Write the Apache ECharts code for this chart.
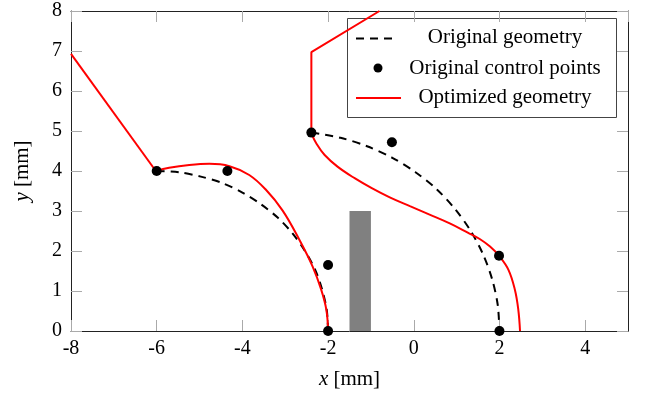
<!DOCTYPE html>
<html>
<head>
<meta charset="utf-8">
<script src="https://cdn.jsdelivr.net/npm/echarts@6/dist/echarts.min.js"></script>
<style>
  html, body { margin: 0; padding: 0; background: #fff; }
  #chart { width: 652px; height: 403px; }
</style>
</head>
<body>
<div id="chart"></div>
<script>
// original geometry (dashed), two arcs
const originalLeft = [[-6.00, 4.00], [-5.48, 3.97], [-4.97, 3.86], [-4.47, 3.70], [-4.00, 3.46], [-3.57, 3.17], [-3.17, 2.83], [-2.83, 2.44], [-2.54, 2.00], [-2.30, 1.53], [-2.14, 1.04], [-2.03, 0.52], [-2.00, 0.00]];
const originalRight = [[-2.39, 4.96], [-1.71, 4.83], [-1.09, 4.62], [-0.50, 4.33], [0.04, 3.97], [0.54, 3.54], [0.97, 3.04], [1.33, 2.50], [1.62, 1.91], [1.83, 1.29], [1.96, 0.65], [2.00, 0.00]];

// original control points
const controlPoints = [[-6, 4], [-4.35, 4], [-2, 1.65], [-2, 0], [-2.39, 4.96], [-0.51, 4.72], [1.99, 1.88], [2, 0]];

// optimized geometry (red): straight parts and curved parts
const optimizedLeftStraight = [[-8, 6.93], [-6.02, 4.0]];
const optimizedLeftCurve = [[-6.02, 4.0], [-5.71, 4.08], [-5.24, 4.15], [-4.77, 4.18], [-4.30, 4.12], [-3.84, 3.90], [-3.45, 3.53], [-3.06, 3.01], [-2.67, 2.28], [-2.36, 1.61], [-2.16, 1.03], [-2.04, 0.53], [-2.0, 0]];
const optimizedRightStraight = [[-0.80, 8.0], [-2.39, 6.97], [-2.39, 4.94]];
const optimizedRightCurve = [[-2.39, 4.94], [-2.27, 4.68], [-2.08, 4.40], [-1.78, 4.11], [-1.38, 3.82], [-0.98, 3.57], [-0.56, 3.34], [-0.09, 3.12], [0.37, 2.91], [0.84, 2.69], [1.26, 2.46], [1.54, 2.30], [1.78, 2.11], [1.99, 1.88], [2.21, 1.53], [2.36, 1.03], [2.44, 0.53], [2.48, 0]];

// gray obstacle
const obstacleX = [-1.5, -1.0];
const obstacleY = [0, 3];

const legendNames = ['Original geometry', 'Original control points', 'Optimized geometry'];

const serif = '"Liberation Serif", "DejaVu Serif", serif';
const chart = echarts.init(document.getElementById('chart'));

const tickStyle = {show: true, inside: true, length: 11, lineStyle: {color: '#aaa', width: 1}};
const lineAxis = {onZero: false, lineStyle: {color: '#222', width: 1}};

const dashed = {color: '#000', width: 2, type: [8, 6]};
const red = {color: '#ff0000', width: 2};

function lineSeries(data, style, smooth) {
    return {
        type: 'line', data: data, showSymbol: false, symbol: 'none',
        smooth: smooth, lineStyle: style, z: 3
    };
}

const option = {
    animation: false,
    grid: {left: 71, right: 24, top: 11, bottom: 72},
    xAxis: [
        {
            type: 'value', min: -8, max: 5, interval: 2, position: 'bottom',
            axisLine: lineAxis, axisTick: tickStyle, splitLine: {show: false},
            axisLabel: {fontFamily: serif, fontSize: 20, color: '#000', margin: 8, showMaxLabel: false},
            name: '{i|x} [mm]', nameLocation: 'middle', nameGap: 38,
            nameTextStyle: {fontFamily: serif, fontSize: 21, color: '#000',
                rich: {i: {fontFamily: serif, fontStyle: 'italic', fontSize: 21, color: '#000'}}}
        },
        {
            type: 'value', min: -8, max: 5, interval: 2, position: 'top',
            axisLine: lineAxis, axisTick: tickStyle, splitLine: {show: false},
            axisLabel: {show: false}
        }
    ],
    yAxis: [
        {
            type: 'value', min: 0, max: 8, interval: 1, position: 'left',
            axisLine: lineAxis, axisTick: tickStyle, splitLine: {show: false},
            axisLabel: {fontFamily: serif, fontSize: 20, color: '#000', margin: 9},
            name: '{i|y} [mm]', nameLocation: 'middle', nameGap: 38,
            nameTextStyle: {fontFamily: serif, fontSize: 21, color: '#000',
                rich: {i: {fontFamily: serif, fontStyle: 'italic', fontSize: 21, color: '#000'}}}
        },
        {
            type: 'value', min: 0, max: 8, interval: 1, position: 'right',
            axisLine: lineAxis, axisTick: tickStyle, splitLine: {show: false},
            axisLabel: {show: false}
        }
    ],
    series: [
        {
            type: 'custom', z: 2,
            data: [[obstacleX[0], obstacleY[0], obstacleX[1], obstacleY[1]]],
            renderItem: function (params, api) {
                const p0 = api.coord([api.value(0), api.value(1)]);
                const p1 = api.coord([api.value(2), api.value(3)]);
                return {
                    type: 'rect',
                    shape: {x: p0[0], y: p1[1], width: p1[0] - p0[0], height: p0[1] - p1[1]},
                    style: {fill: '#808080'}
                };
            }
        },
        lineSeries(originalLeft, dashed, 0.3),
        lineSeries(originalRight, dashed, 0.3),
        lineSeries(optimizedLeftStraight, red, false),
        lineSeries(optimizedLeftCurve, red, 0.4),
        lineSeries(optimizedRightStraight, red, false),
        lineSeries(optimizedRightCurve, red, 0.4),
        {
            type: 'scatter', data: controlPoints, symbol: 'circle', symbolSize: 10,
            itemStyle: {color: '#000', opacity: 1}, clip: false, z: 5
        }
    ],
    graphic: [
        {
            type: 'group', left: 347, top: 18, z: 100,
            children: [
                {type: 'rect', shape: {x: 0.5, y: 0.5, width: 269, height: 99},
                    style: {fill: '#fff', stroke: '#444', lineWidth: 1}},
                {type: 'line', shape: {x1: 9, y1: 20.5, x2: 51, y2: 20.5},
                    style: {stroke: '#000', lineWidth: 2, lineDash: [8, 6]}},
                {type: 'circle', shape: {cx: 31, cy: 50, r: 4.5}, style: {fill: '#000'}},
                {type: 'line', shape: {x1: 9, y1: 80, x2: 54, y2: 80},
                    style: {stroke: '#ff0000', lineWidth: 2}},
                {type: 'text', x: 158, y: 19, style: {text: legendNames[0], font: '21px ' + serif,
                    fill: '#000', textAlign: 'center', textVerticalAlign: 'middle'}},
                {type: 'text', x: 158, y: 50, style: {text: legendNames[1], font: '21px ' + serif,
                    fill: '#000', textAlign: 'center', textVerticalAlign: 'middle'}},
                {type: 'text', x: 158, y: 79, style: {text: legendNames[2], font: '21px ' + serif,
                    fill: '#000', textAlign: 'center', textVerticalAlign: 'middle'}}
            ]
        }
    ]
};

chart.setOption(option);
</script>
</body>
</html>
